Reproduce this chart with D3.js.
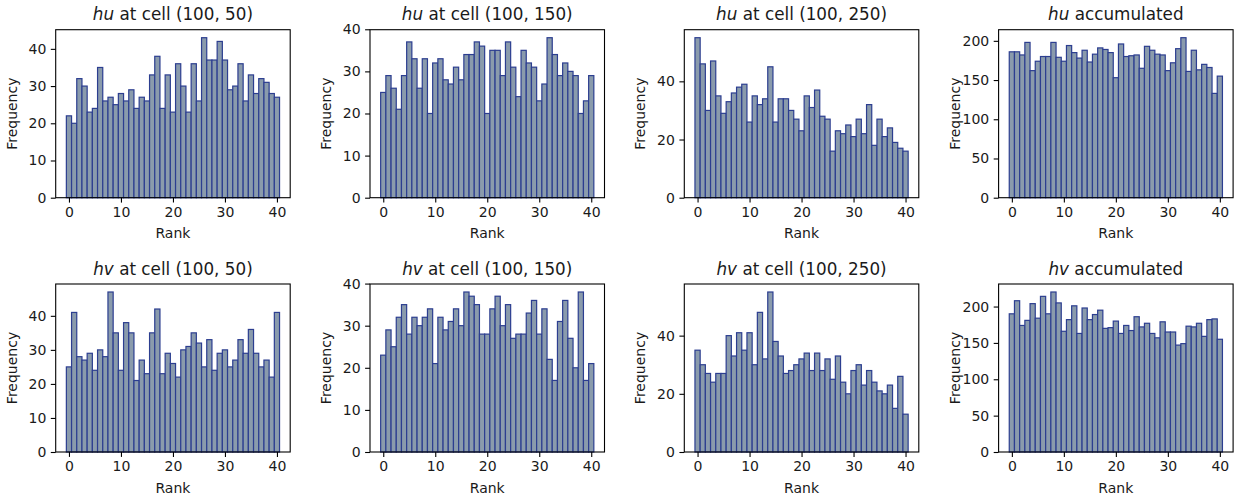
<!DOCTYPE html>
<html>
<head>
<meta charset="utf-8">
<script src="https://cdn.jsdelivr.net/npm/d3@7"></script>
<style>
  body { margin: 0; background: #fff; }
  text { font-family: "DejaVu Sans", sans-serif; fill: #1a1a1a; }
</style>
</head>
<body>
<svg id="chart" width="1242" height="500"></svg>
<script>
// rank histograms, 41 bins each (rank 0..40)

var ranks = [0,1,2,3,4,5,6,7,8,9,10,11,12,13,14,15,16,17,18,19,20,
             21,22,23,24,25,26,27,28,29,30,31,32,33,34,35,36,37,38,39,40];

var hu_50  = [22,20,32,30,23,24,35,26,27,25,28,26,29,24,27,26,33,38,24,33,23,
              36,30,23,36,26,43,37,37,42,37,29,30,36,26,33,28,32,31,28,27];
var hu_150 = [25,29,26,21,29,37,33,26,33,20,32,33,28,27,31,28,34,34,37,36,20,
              35,35,29,37,31,24,35,32,31,23,27,38,34,29,32,30,29,20,23,29];
var hu_250 = [55,46,30,47,35,29,33,36,38,39,26,35,32,34,45,26,34,34,30,27,23,
              35,31,37,28,27,16,23,22,25,21,27,22,32,18,27,21,24,19,17,16];
var hu_acc = [186,186,182,198,162,174,180,180,198,179,174,194,185,178,188,173,183,191,189,185,153,
              196,180,181,182,165,193,188,183,182,162,172,190,204,161,188,163,170,166,133,155];

var hv_50  = [25,41,28,27,29,24,30,28,47,35,24,38,35,21,27,23,35,42,23,29,26,
              22,30,31,35,32,25,33,24,29,30,25,27,33,29,36,29,25,27,22,41];
var hv_150 = [23,29,25,32,35,28,32,30,32,34,21,32,29,31,34,30,38,37,35,28,28,
              34,37,30,35,27,28,28,33,36,28,34,22,17,31,36,27,20,38,17,21];
var hv_250 = [35,30,27,24,27,27,40,33,41,35,41,30,48,32,55,38,33,27,28,30,32,
              34,28,34,28,32,25,33,24,20,28,30,23,28,24,21,20,23,15,26,13];
var hv_acc = [190,208,174,181,204,184,214,190,220,205,166,182,201,163,198,182,189,195,170,171,180,
              163,174,167,186,172,177,163,157,179,165,165,147,149,173,172,177,159,182,183,155];

var var_names = ["hu", "hu", "hu", "hu", "hv", "hv", "hv", "hv"];
var title_rest = [" at cell (100, 50)", " at cell (100, 150)", " at cell (100, 250)", " accumulated",
                  " at cell (100, 50)", " at cell (100, 150)", " at cell (100, 250)", " accumulated"];
var series = [hu_50, hu_150, hu_250, hu_acc, hv_50, hv_150, hv_250, hv_acc];

var x_ticks = [0, 10, 20, 30, 40];
var y_ticks = [
  [0, 10, 20, 30, 40],
  [0, 10, 20, 30, 40],
  [0, 20, 40],
  [0, 50, 100, 150, 200],
  [0, 10, 20, 30, 40],
  [0, 10, 20, 30, 40],
  [0, 20, 40],
  [0, 50, 100, 150, 200]
];

// layout
var col_left = [55.7, 370, 684.3, 998.6];
var row_top = [29.7, 284];
var plot_w = 234.5,
    plot_h = 168;

var bar_fill = "#8a9bac";
var bar_edge = "#2c3e90";

var svg = d3.select("#chart");

series.forEach(function(vals, i) {
  var col = i % 4, row = Math.floor(i / 4);
  var g = svg.append("g")
      .attr("transform", "translate(" + col_left[col] + "," + row_top[row] + ")");

  // matplotlib-like 5% margins around bins [-0.5, 40.5]
  var x = d3.scaleLinear()
      .domain([-0.5 - 41 * 0.05, 40.5 + 41 * 0.05])
      .range([0, plot_w]);
  var y = d3.scaleLinear()
      .domain([0, d3.max(vals) * 1.05])
      .range([plot_h, 0]);

  g.selectAll(".bar")
    .data(ranks)
    .enter().append("rect")
      .attr("class", "bar")
      .attr("x", function(r) { return x(r - 0.5); })
      .attr("width", function(r) { return x(r + 0.5) - x(r - 0.5); })
      .attr("y", function(r) { return y(vals[r]); })
      .attr("height", function(r) { return plot_h - y(vals[r]); })
      .attr("fill", bar_fill)
      .attr("stroke", bar_edge)
      .attr("stroke-width", 1.2);

  // axes
  var xa = g.append("g")
      .attr("transform", "translate(0," + plot_h + ")")
      .call(d3.axisBottom(x).tickValues(x_ticks).tickSize(4.9).tickPadding(4.5));
  var ya = g.append("g")
      .call(d3.axisLeft(y).tickValues(y_ticks[i]).tickSize(4.9).tickPadding(4.5));
  [xa, ya].forEach(function(a) {
    a.select(".domain").remove();
    a.selectAll("line").attr("stroke", "#000").attr("stroke-width", 1.1);
    a.selectAll("text")
      .style("font-family", "'DejaVu Sans', sans-serif")
      .style("font-size", "14px")
      .attr("fill", "#1a1a1a");
  });

  // frame
  g.append("rect")
    .attr("width", plot_w)
    .attr("height", plot_h)
    .attr("fill", "none")
    .attr("stroke", "#000")
    .attr("stroke-width", 1.1);

  // title
  var t = g.append("text")
    .attr("x", plot_w / 2)
    .attr("y", -9.5)
    .attr("text-anchor", "middle")
    .style("font-size", "16.8px");
  t.append("tspan").style("font-style", "italic").text(var_names[i]);
  t.append("tspan").text(title_rest[i]);

  // x label
  g.append("text")
    .attr("x", plot_w / 2)
    .attr("y", plot_h + 40.5)
    .attr("text-anchor", "middle")
    .style("font-size", "14px")
    .text("Rank");

  // y label
  g.append("text")
    .attr("transform", "rotate(-90)")
    .attr("x", -plot_h / 2)
    .attr("y", -39)
    .attr("text-anchor", "middle")
    .style("font-size", "14px")
    .text("Frequency");
});
</script>
</body>
</html>
